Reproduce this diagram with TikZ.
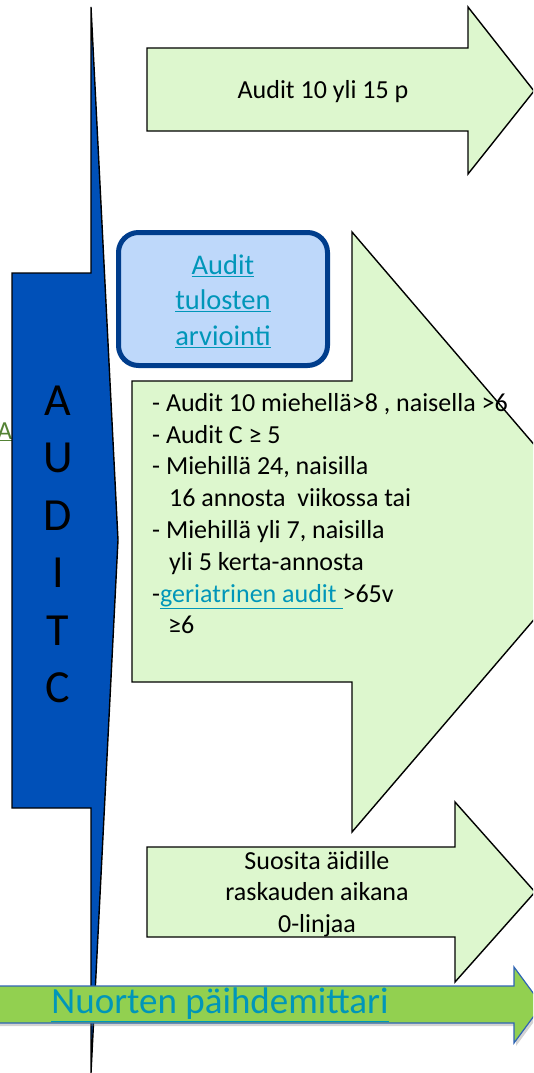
\documentclass[tikz,border=0pt]{standalone}
\usepackage{fontspec}
\setmainfont{Carlito}
\usetikzlibrary{shadows}

\definecolor{palegreen}{RGB}{221,247,206}
\definecolor{auditblue}{RGB}{0,80,184}
\definecolor{boxfill}{RGB}{190,216,250}
\definecolor{boxline}{RGB}{0,61,140}
\definecolor{linkteal}{RGB}{0,150,185}
\definecolor{bargreen}{RGB}{146,208,80}
\definecolor{barline}{RGB}{47,100,180}
\definecolor{agreen}{RGB}{84,130,53}

\begin{document}
\begin{tikzpicture}[x=1pt, y=-1pt,
  arrowbox/.style={draw=black, line width=1.4pt, fill=palegreen, line join=miter},
  txt/.style={font=\fontsize{26}{31.8}\selectfont, inner sep=0pt},
  letter/.style={font=\fontsize{46}{56}\selectfont, inner sep=0pt}]

\useasboundingbox (0,0) rectangle (533,1073);
\clip (0,0) rectangle (533,1073);

% hidden link behind the bar
\node[txt, text=agreen, anchor=base west] (hidden) at (-3,439) {\underline{A}};

% AUDIT C bar
\draw[fill=auditblue, line width=1.4pt, line join=miter]
  (91,7) -- (118,540) -- (91,1073) -- (91,808) -- (12,808) -- (12,273) -- (91,273) -- cycle;
\foreach \l [count=\i from 0] in {A,U,D,I,T,C}
  \node[letter] (l\i) at (58,401+57.4*\i) {\l};

% top arrow
\draw[arrowbox] (147,48) -- (468,48) -- (468,7) -- (534,91) -- (468,174) -- (468,131) -- (147,131) -- cycle;
\node[txt] (top) at (323,92) {Audit 10 yli 15 p};

% results box
\node[draw=boxline, line width=5pt, fill=boxfill, rounded corners=20pt,
  minimum width=209pt, minimum height=133pt, inner sep=0pt] (res) at (223,299) {};
\node[font=\fontsize{28.5}{35.5}\selectfont, text=linkteal, align=center, inner sep=0pt]
  (restxt) at (223,301) {\underline{Audit}\\\underline{tulosten}\\\underline{arviointi}};

% middle arrow
\draw[arrowbox] (132,381) -- (352,381) -- (352,232) -- (609,532) -- (352,832) -- (352,682) -- (132,682) -- cycle;
\node[txt, align=left, anchor=north west] (crit) at (152,393) {%
  - Audit 10 miehellä>8 , naisella >6\\
  - Audit C ≥ 5\\
  - Miehillä 24, naisilla\\
  \hspace*{17pt}16 annosta\ \ viikossa tai\\
  - Miehillä yli 7, naisilla\\
  \hspace*{17pt}yli 5 kerta-annosta\\
  -\textcolor{linkteal}{\underline{geriatrinen audit\ }}>65v\\
  \hspace*{16pt}≥6};

% bottom arrow
\draw[arrowbox] (147,847) -- (455,847) -- (455,802) -- (535,892) -- (455,982) -- (455,937) -- (147,937) -- cycle;
\node[txt, align=center] (mother) at (317,894) {Suosita äidille\\raskauden aikana\\0-linjaa};

% youth bar
\draw[fill=bargreen, draw=barline, line width=1.2pt,
  drop shadow={shadow xshift=2pt, shadow yshift=-3pt, opacity=0.35}]
  (-2,986) -- (514,986) -- (514,967) -- (542,1005) -- (514,1043) -- (514,1023) -- (-2,1023) -- cycle;
\node[font=\fontsize{37}{44}\selectfont, text=linkteal, inner sep=0pt] (youth) at (220,1005) {\underline{Nuorten päihdemittari}};

\end{tikzpicture}
\end{document}
